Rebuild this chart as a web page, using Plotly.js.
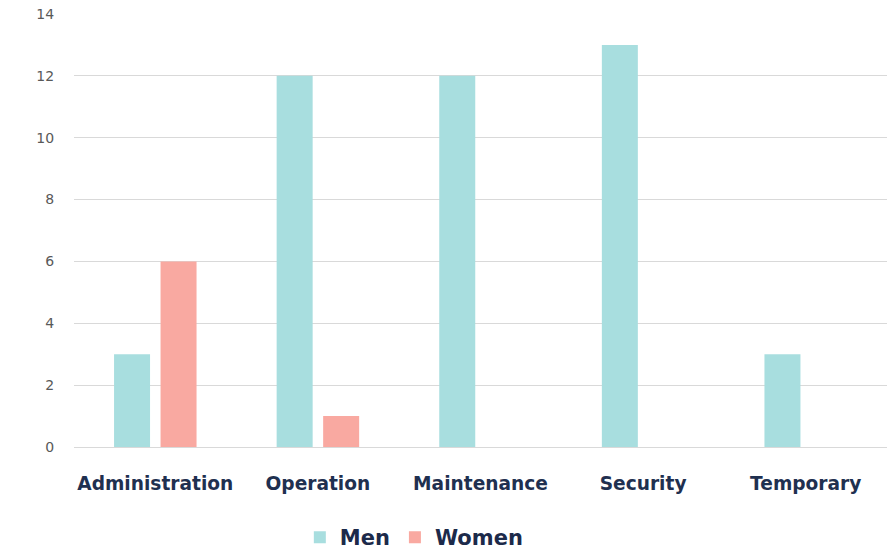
<!DOCTYPE html>
<html>
<head>
<meta charset="utf-8">
<script src="https://cdn.plot.ly/plotly-3.0.1.min.js"></script>
<style>
  html, body { margin: 0; padding: 0; background: #ffffff; }
  #chart { width: 895px; height: 557px; }
</style>
</head>
<body>
<div id="chart"></div>
<script>
// Staff headcount by department, split by gender
const departments = ["Administration", "Operation", "Maintenance", "Security", "Temporary"];
const menCounts = [3, 12, 12, 13, 3];
const womenCounts = [6, 1, 0, 0, 0];
const yTicks = [0, 2, 4, 6, 8, 10, 12, 14];

const traces = [
  {
    type: "bar",
    name: "Men",
    x: departments,
    y: menCounts,
    marker: { color: "#a8dedf" },
    hoverinfo: "x+y+name"
  },
  {
    type: "bar",
    name: "Women",
    x: departments,
    y: womenCounts,
    marker: { color: "#f9a9a1" },
    hoverinfo: "x+y+name"
  }
];

const layout = {
  width: 895,
  height: 557,
  margin: { l: 74, r: 8, t: 14, b: 110 },
  paper_bgcolor: "#ffffff",
  plot_bgcolor: "#ffffff",
  barmode: "group",
  bargap: 0.428,
  bargroupgap: 0.226,
  font: { family: "DejaVu Sans, sans-serif", color: "#595959" },
  xaxis: {
    type: "category",
    showgrid: false,
    showline: false,
    zeroline: false,
    ticks: "outside",
    ticklen: 20,
    tickcolor: "rgba(0,0,0,0)",
    tickfont: { family: "DejaVu Sans, sans-serif", size: 18.6, color: "#1f3050", weight: "bold" }
  },
  yaxis: {
    range: [0, 14],
    tickvals: yTicks,
    ticktext: yTicks.map(String),
    showgrid: true,
    gridcolor: "#d9d9d9",
    gridwidth: 1,
    zeroline: true,
    zerolinecolor: "#d9d9d9",
    zerolinewidth: 1,
    showline: false,
    ticks: "outside",
    ticklen: 16,
    tickcolor: "rgba(0,0,0,0)",
    tickfont: { family: "DejaVu Sans, sans-serif", size: 14, color: "#595959" }
  },
  showlegend: true,
  legend: {
    orientation: "h",
    xref: "container",
    yref: "container",
    x: 0.335,
    xanchor: "left",
    y: 0.035,
    yanchor: "middle",
    font: { family: "DejaVu Sans, sans-serif", size: 21, color: "#1c2a4a", weight: "bold" },
    itemclick: false,
    itemdoubleclick: false
  }
};

Plotly.newPlot("chart", traces, layout, { displayModeBar: false, staticPlot: true });
</script>
</body>
</html>
